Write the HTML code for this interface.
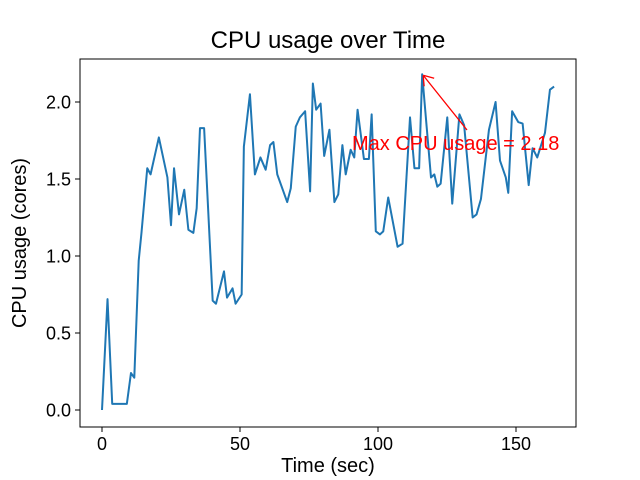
<!DOCTYPE html>
<html><head><meta charset="utf-8"><style>
body{margin:0;background:#fff}
svg{display:block;font-family:"Liberation Sans","DejaVu Sans",sans-serif}
</style></head><body>
<svg id="c" width="640" height="480">
<rect x="0" y="0" width="640" height="480" fill="#fff"/>
<text x="328" y="48" font-size="24" text-anchor="middle">CPU usage over Time</text>
<text x="328" y="472" font-size="20" text-anchor="middle">Time (sec)</text>
<text transform="translate(26,243) rotate(-90)" font-size="20" text-anchor="middle">CPU usage (cores)</text>
<g id="ticks"></g>
<polyline id="line" fill="none" stroke="#1f77b4" stroke-width="2" stroke-linejoin="round"/>
<rect x="80" y="59" width="496" height="368" fill="none" stroke="#000" stroke-width="1"/>
<g id="annot"></g>
</svg>
<script>
const times=[0,2,3.7,8.3,9,10.5,11.7,13.3,14.3,16.4,17.6,20.6,23.7,25,26.1,27.9,29.8,31.3,33.1,34.3,35.5,37,40.1,41.3,44.2,45.3,47.3,48.4,50.6,51.4,53.6,55.4,57.4,59.3,60.9,62.1,63.5,67.1,68.4,70.2,71.7,73.6,75.4,76.4,77.6,79.2,80.5,82.4,84.2,85.6,87.1,88.3,90.1,91.4,92.6,94.9,96.7,97.7,99.2,100.7,101.9,103.7,107.1,108.9,111.6,113.2,114.9,116,119.2,120.4,121.5,122.7,125.1,126.9,129.5,131.2,134.3,135.7,137.3,140.2,142.6,144.2,146.3,147.2,148.6,150.8,152.4,154.6,156,157.7,160.5,162.3,163.8];
const usage=[0,0.72,0.04,0.04,0.04,0.24,0.21,0.97,1.15,1.57,1.53,1.77,1.51,1.2,1.57,1.27,1.43,1.17,1.15,1.31,1.83,1.83,0.71,0.69,0.9,0.73,0.79,0.69,0.75,1.71,2.05,1.53,1.64,1.56,1.72,1.74,1.53,1.35,1.44,1.84,1.9,1.94,1.42,2.12,1.95,1.99,1.65,1.82,1.35,1.4,1.72,1.53,1.69,1.64,1.95,1.63,1.63,1.92,1.16,1.14,1.16,1.38,1.06,1.08,1.9,1.57,1.57,2.18,1.51,1.53,1.45,1.47,1.9,1.34,1.92,1.85,1.25,1.27,1.37,1.82,2.0,1.62,1.51,1.41,1.94,1.87,1.86,1.46,1.7,1.64,1.8,2.08,2.1];
const xTicks=[0,50,100,150];
const yTicks=[0,0.5,1.0,1.5,2.0];
const yTickLabels=["0.0","0.5","1.0","1.5","2.0"];
const X=t=>102+t*2.76;
const Y=v=>410-v*154;
const NS="http://www.w3.org/2000/svg";
const line=document.getElementById('line');
line.setAttribute('points',times.map((t,i)=>X(t)+','+Y(usage[i])).join(' '));
const g=document.getElementById('ticks');
xTicks.forEach(t=>{
 const l=document.createElementNS(NS,'line');
 
 
 l.setAttribute('x1',X(t));l.setAttribute('x2',X(t));l.setAttribute('y1',427);l.setAttribute('y2',432);l.setAttribute('stroke','#000');
 g.appendChild(l);
 const tx=document.createElementNS(NS,'text');
 
 
 tx.setAttribute('x',X(t));tx.setAttribute('y',450);tx.setAttribute('font-size','18');tx.setAttribute('text-anchor','middle');
 tx.textContent=t;g.appendChild(tx);
});
yTicks.forEach((v,i)=>{
 const l=document.createElementNS(NS,'line');
 
 
 l.setAttribute('x1',75);l.setAttribute('x2',80);l.setAttribute('y1',Y(v));l.setAttribute('y2',Y(v));l.setAttribute('stroke','#000');
 g.appendChild(l);
 const tx=document.createElementNS(NS,'text');
 
 
 tx.setAttribute('x',71);tx.setAttribute('y',Y(v)+6.5);tx.setAttribute('font-size','18');tx.setAttribute('text-anchor','end');
 tx.textContent=yTickLabels[i];g.appendChild(tx);
});
// annotation at max
let mi=0;usage.forEach((v,i)=>{if(v>usage[mi])mi=i;});
const mx=X(times[mi]),my=Y(usage[mi]);
const a=document.getElementById('annot');
const ar=document.createElementNS(NS,'path');


const ex=467,ey=130;
ar.setAttribute('d',`M${ex},${ey} L${mx+1},${my+1} M${mx+1},${my+1} l11,3 M${mx+1},${my+1} l1,11`);
ar.setAttribute('stroke','red');ar.setAttribute('stroke-width','1.3');ar.setAttribute('fill','none');
a.appendChild(ar);
const at=document.createElementNS(NS,'text');


at.setAttribute('x',352);at.setAttribute('y',150);at.setAttribute('font-size','20');at.setAttribute('fill','red');
at.textContent='Max CPU usage = '+usage[mi].toFixed(2);
a.appendChild(at);
</script>
</body></html>
